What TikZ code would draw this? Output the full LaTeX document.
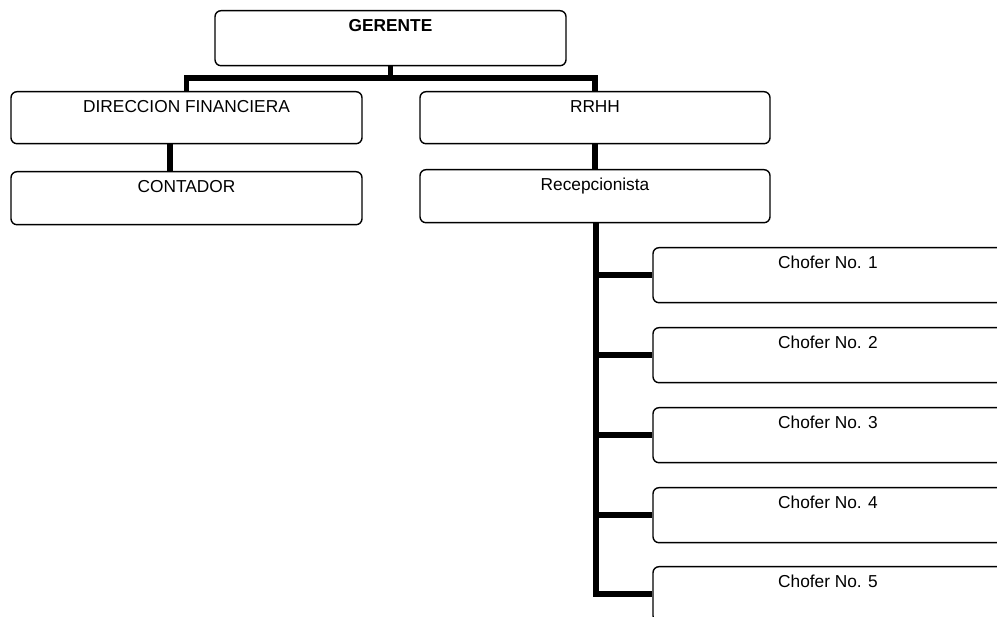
\documentclass[tikz,border=0pt]{standalone}
\usepackage{fontspec}
\setmainfont{Liberation Sans}
\usetikzlibrary{backgrounds}
\begin{document}
\begin{tikzpicture}[x=1pt,y=-1pt,
  box/.style={draw=black,line width=1.4pt,fill=white,rounded corners=6pt,inner sep=0pt,
    anchor=north,minimum width=351pt,text height=20.5pt,
    font=\fontsize{17.3}{20}\selectfont},
  conn/.style={draw=black,line width=5.5pt,line join=miter,line cap=butt}]
\useasboundingbox (0,0) rectangle (997,617);
\clip (0,0) rectangle (997,617);
\node[box,text depth=34.5pt,font=\fontsize{17.3}{20}\selectfont\bfseries] (g) at (390.5,10) {GERENTE};
\node[box,text depth=31.5pt] (d) at (186.5,91) {DIRECCION FINANCIERA};
\node[box,text depth=32.5pt] (c) at (186.5,171) {CONTADOR};
\node[box,text depth=31.5pt,minimum width=350pt] (r) at (595,91) {RRHH};
\node[box,text depth=32.5pt,minimum width=350pt] (rc) at (595,169) {Recepcionista};
\node[box,text depth=34.5pt,minimum width=350pt] (ch1) at (828,247) {Chofer No. 1};
\node[box,text depth=34.5pt,minimum width=350pt] (ch2) at (828,327) {Chofer No. 2};
\node[box,text depth=34.5pt,minimum width=350pt] (ch3) at (828,407) {Chofer No. 3};
\node[box,text depth=34.5pt,minimum width=350pt] (ch4) at (828,487) {Chofer No. 4};
\node[box,text depth=34.5pt,minimum width=350pt] (ch5) at (828,566) {Chofer No. 5};
\begin{scope}[on background layer]
  \fill[white] (0,0) rectangle (997,617);
  \coordinate (bus) at (0,78);
  \draw[conn] (g.south) -- (g.south |- bus);
  \draw[conn] (d.north) -- (d.north |- bus) -- (r.north |- bus) -- (r.north);
  \draw[conn] ([xshift=-16.5pt]d.south) -- ([xshift=-16.5pt]c.north);
  \draw[conn] (r.south) -- (rc.north);
  \draw[conn] ([xshift=1pt]rc.south) |- (ch5.west);
  \foreach \k in {1,2,3,4} {
    \draw[conn] ([xshift=1pt]rc.south |- ch\k.west) -- (ch\k.west);
  }
\end{scope}
\end{tikzpicture}
\end{document}
